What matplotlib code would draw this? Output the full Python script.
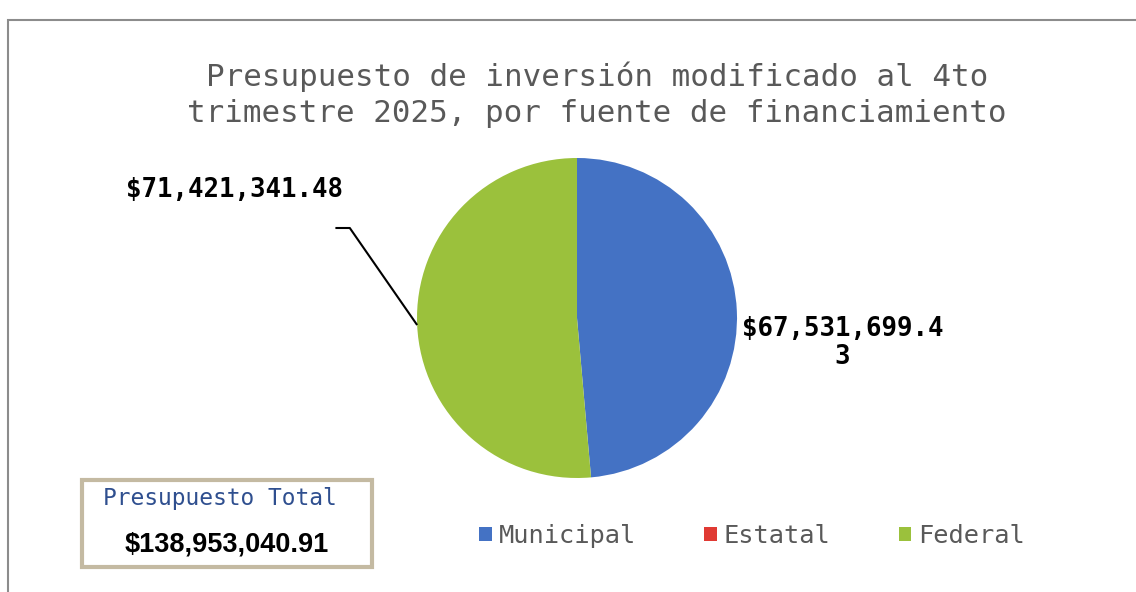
import numpy as np
import matplotlib.pyplot as plt
from matplotlib.patches import Rectangle

# data
categorias = ["Municipal", "Estatal", "Federal"]
montos = [67531699.43, 0.0, 71421341.48]
colores = ["#4472C4", "#E03A33", "#9BC13C"]
etiquetas = ["$67,531,699.4\n3", None, "$71,421,341.48"]
total_txt = "$138,953,040.91"
titulo = "Presupuesto de inversión modificado al 4to\ntrimestre 2025, por fuente de financiamiento"

MONO = "DejaVu Sans Mono"

fig = plt.figure(figsize=(11.36, 5.92), dpi=100)
fig.patch.set_facecolor("white")

# outer frame (left + top edges visible in the scan)
fig.patches.append(Rectangle((8 / 1136, -0.05), 1.2, 1 - 20 / 592 + 0.05,
                             transform=fig.transFigure, fill=False,
                             edgecolor="#8c8c8c", linewidth=1.5))

fig.text(597 / 1136, 1 - 95 / 592, titulo, ha="center", va="center",
         family=MONO, fontsize=22.2, color="#595959", linespacing=1.32)

# pie axes: center (577, 318), radius ~160 px
ax = fig.add_axes([(577 - 160) / 1136, (592 - 318 - 160) / 592, 320 / 1136, 320 / 592])
wedges, _ = ax.pie(montos, colors=colores, startangle=90, counterclock=False,
                   radius=1.0, wedgeprops=dict(linewidth=0))
ax.set_xlim(-1, 1)
ax.set_ylim(-1, 1)
ax.set_aspect("equal")
ax.axis("off")

# Municipal label (right side)
w = wedges[0]
ang = np.deg2rad((w.theta1 + w.theta2) / 2)
ax.text(1.03, np.sin(ang) - 0.2, etiquetas[0], ha="left", va="center",
        family=MONO, fontsize=18.5, fontweight="bold", color="#000000",
        multialignment="center", linespacing=1.1, clip_on=False)

# Federal label with leader line
w = wedges[2]
ang = np.deg2rad((w.theta1 + w.theta2) / 2)
px, py = np.cos(ang), np.sin(ang)
ax.plot([-1.51, -1.42, px], [0.5625, 0.5625, py], color="#000000", lw=1.5,
        clip_on=False, solid_capstyle="butt")
ax.text(-2.14, 0.80, etiquetas[2], ha="center", va="center",
        family=MONO, fontsize=18.5, fontweight="bold", color="#000000", clip_on=False)

# legend
fig.legend(wedges, categorias, loc="center", bbox_to_anchor=(752 / 1136, 1 - 536 / 592),
           ncol=3, frameon=False, prop=dict(family=MONO, size=18.3),
           handlelength=0.5, handleheight=0.5, handletextpad=0.25,
           columnspacing=2.7, labelcolor="#595959")

# total box
fig.patches.append(Rectangle((82 / 1136, (592 - 567) / 592), 290 / 1136, 87 / 592,
                             transform=fig.transFigure, facecolor="white",
                             edgecolor="#c4baa2", linewidth=3))
fig.text(220 / 1136, 1 - 499 / 592, "Presupuesto Total", ha="center", va="center",
         family=MONO, fontsize=16.5, color="#2F4F8F")
fig.text(227 / 1136, 1 - 544 / 592, total_txt, ha="center", va="center",
         family="Liberation Sans", fontsize=19.5, fontweight="bold", color="#000000")

fig.savefig("out.png", dpi=100)
